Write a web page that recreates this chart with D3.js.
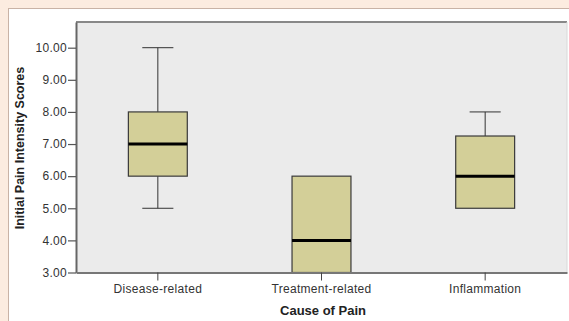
<!DOCTYPE html>
<html>
<head>
<meta charset="utf-8">
<script src="https://cdn.jsdelivr.net/npm/d3@7"></script>
<style>
  html, body { margin: 0; padding: 0; background: #fcece0; }
  svg { display: block; }
  text { font-family: "Liberation Sans", Arial, sans-serif; }
</style>
</head>
<body>
<svg id="chart" width="569" height="321"></svg>
<script>
// Box-plot summaries per cause of pain
const categories = ["Disease-related", "Treatment-related", "Inflammation"];
const whiskerLow  = [5, 3, 5];
const quartile1   = [6, 3, 5];
const medians     = [7, 4, 6];
const quartile3   = [8, 6, 7.25];
const whiskerHigh = [10, 6, 8];
const yTicks = [3, 4, 5, 6, 7, 8, 9, 10];

const W = 569, H = 321;
const plot = { left: 76, right: 567, top: 22, bottom: 272.5 };

const svg = d3.select("#chart");

// white panel on the peach page background
svg.append("rect")
  .attr("x", 8.5).attr("y", 8.5)
  .attr("width", W).attr("height", H)
  .attr("fill", "#ffffff")
  .attr("stroke", "#c9b3a6").attr("stroke-width", 1);

const x = d3.scaleBand().domain(categories).range([plot.left, plot.right]).padding(0);
const y = d3.scaleLinear().domain([3, 10.8]).range([plot.bottom, plot.top]);

// plot background
svg.append("rect")
  .attr("x", plot.left).attr("y", plot.top)
  .attr("width", plot.right - plot.left).attr("height", plot.bottom - plot.top)
  .attr("fill", "#ebebeb");

// frame: top edge and right edge
svg.append("line")
  .attr("x1", plot.left).attr("x2", plot.right)
  .attr("y1", plot.top).attr("y2", plot.top)
  .attr("stroke", "#888").attr("stroke-width", 2);
svg.append("line")
  .attr("x1", plot.right).attr("x2", plot.right)
  .attr("y1", plot.top).attr("y2", plot.bottom)
  .attr("stroke", "#d8d8d8").attr("stroke-width", 1);

// boxes
const data = categories.map((c, i) => ({
  c, lo: whiskerLow[i], q1: quartile1[i], med: medians[i], q3: quartile3[i], hi: whiskerHigh[i]
}));
const boxW = x.bandwidth() * 0.36;
const capW = x.bandwidth() * 0.19;

const g = svg.append("g");
const box = g.selectAll("g.box").data(data).join("g").attr("class", "box")
  .attr("transform", d => `translate(${x(d.c) + x.bandwidth() / 2},0)`);

// whiskers
box.append("line")
  .attr("x1", 0).attr("x2", 0)
  .attr("y1", d => y(d.hi)).attr("y2", d => y(d.q3))
  .attr("stroke", "#333").attr("stroke-width", 1);
box.append("line")
  .attr("x1", 0).attr("x2", 0)
  .attr("y1", d => y(d.q1)).attr("y2", d => y(d.lo))
  .attr("stroke", "#333").attr("stroke-width", 1);
box.filter(d => d.hi > d.q3).append("line")
  .attr("x1", -capW / 2).attr("x2", capW / 2)
  .attr("y1", d => y(d.hi)).attr("y2", d => y(d.hi))
  .attr("stroke", "#333").attr("stroke-width", 1);
box.filter(d => d.lo < d.q1).append("line")
  .attr("x1", -capW / 2).attr("x2", capW / 2)
  .attr("y1", d => y(d.lo)).attr("y2", d => y(d.lo))
  .attr("stroke", "#333").attr("stroke-width", 1);

box.append("rect")
  .attr("x", -boxW / 2).attr("width", boxW)
  .attr("y", d => y(d.q3)).attr("height", d => y(d.q1) - y(d.q3))
  .attr("fill", "#d3cf98").attr("stroke", "#3a3a3a").attr("stroke-width", 1.2);

box.append("line")
  .attr("x1", -boxW / 2).attr("x2", boxW / 2)
  .attr("y1", d => y(d.med)).attr("y2", d => y(d.med))
  .attr("stroke", "#000").attr("stroke-width", 3);

// y axis
const yAxis = svg.append("g")
  .attr("transform", `translate(${plot.left},0)`)
  .call(d3.axisLeft(y).tickValues(yTicks).tickFormat(d3.format(".2f"))
    .tickSizeInner(8).tickSizeOuter(0).tickPadding(1));
yAxis.select(".domain").attr("stroke", "#666").attr("stroke-width", 2);
yAxis.selectAll(".tick line").attr("stroke", "#555").attr("stroke-width", 1.2);
yAxis.selectAll(".tick text")
  .attr("fill", "#333").style("font-size", "12px").style("letter-spacing", "0.3px");

// x axis
const xAxis = svg.append("g")
  .attr("transform", `translate(0,${plot.bottom})`)
  .call(d3.axisBottom(x).tickSizeInner(8).tickSizeOuter(0).tickPadding(4));
xAxis.select(".domain").attr("stroke", "#777").attr("stroke-width", 2);
xAxis.selectAll(".tick line").attr("stroke", "#444").attr("stroke-width", 1);
xAxis.selectAll(".tick text")
  .attr("fill", "#333").style("font-size", "12px").style("letter-spacing", "0.3px");

// axis titles
svg.append("text")
  .attr("x", 323).attr("y", 315)
  .attr("text-anchor", "middle")
  .style("font-size", "13px").style("font-weight", "bold").attr("fill", "#222")
  .text("Cause of Pain");

svg.append("text")
  .attr("transform", "translate(24,148) rotate(-90)")
  .attr("text-anchor", "middle")
  .style("font-size", "12.5px").style("font-weight", "bold").attr("fill", "#222")
  .text("Initial Pain Intensity Scores");
</script>
</body>
</html>
